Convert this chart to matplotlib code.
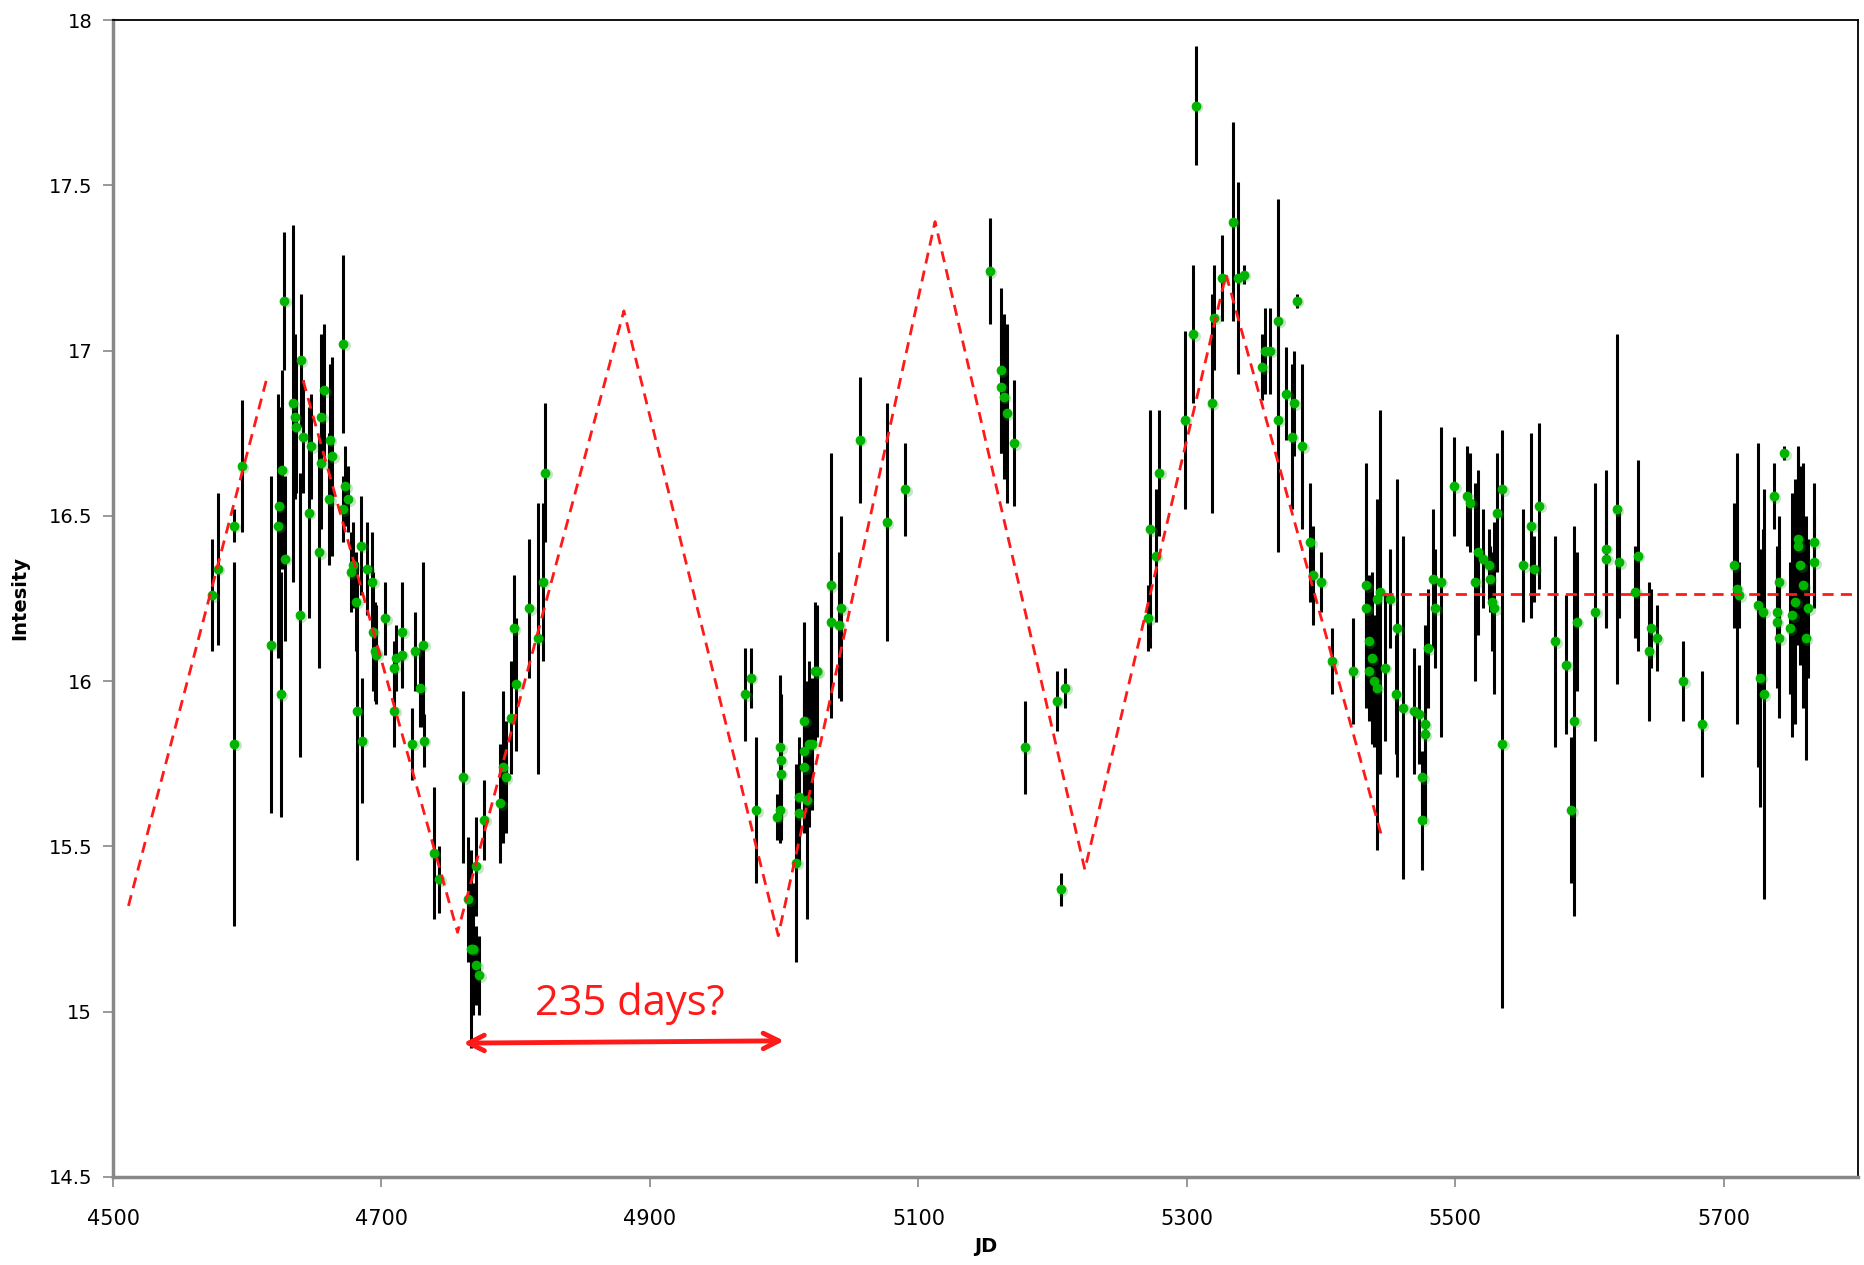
import matplotlib
matplotlib.use("Agg")
import matplotlib.pyplot as plt
import matplotlib.transforms as mtransforms

# ---- observations: JD, intensity, half error bar ----
jd = [4574.0, 4578.0, 4590.0, 4596.0, 4590.5, 4617.6, 4623.6, 4623.0, 4625.6, 4628.0,
      4625.0, 4627.6, 4633.8, 4635.5, 4636.0, 4639.7, 4641.7, 4639.0, 4645.7, 4647.7,
      4653.6, 4657.3, 4655.3, 4655.0, 4661.5, 4661.0, 4663.5, 4671.5, 4673.2, 4675.4,
      4671.0, 4685.1, 4679.0, 4677.2, 4681.2, 4689.3, 4693.0, 4681.5, 4685.5, 4693.5,
      4695.3, 4696.0, 4703.0, 4709.2, 4711.2, 4715.0, 4715.5, 4709.5, 4724.8, 4731.0,
      4728.5, 4723.1, 4731.5, 4739.0, 4743.0,
      4760.8, 4764.7, 4767.0, 4768.0, 4770.7, 4772.7, 4770.7, 4776.4, 4788.5, 4790.5,
      4792.5, 4796.2, 4800.4, 4798.5, 4810.1, 4816.3, 4820.3, 4822.0,
      4971.1, 4975.1, 4979.1, 4994.5, 4997.0, 4997.0, 4997.5, 4997.5, 5008.9, 5010.8,
      5010.8, 5016.8, 5014.8, 5014.8, 5014.8, 5018.8, 5020.8, 5023.0, 5024.7, 5034.7,
      5034.7, 5040.6, 5042.6, 5056.5, 5076.3, 5090.2,
      5153.0, 5161.4, 5161.4, 5163.7, 5165.7, 5171.4, 5179.3, 5203.1, 5206.0, 5209.3,
      5272.8, 5276.8, 5271.1, 5279.3,
      5306.6, 5298.6, 5304.6, 5318.5, 5320.5, 5326.4, 5334.1, 5338.3, 5342.3, 5382.0,
      5356.2, 5358.2, 5362.2, 5368.1, 5368.1, 5374.1, 5380.0, 5378.0, 5386.0, 5392.0,
      5393.9, 5399.9, 5408.0, 5423.7,
      5433.6, 5433.6, 5435.6, 5437.6, 5435.6, 5439.6, 5441.6, 5441.6, 5443.6, 5447.5,
      5451.5, 5456.7, 5455.5, 5461.4, 5469.4, 5473.3, 5477.3, 5477.3, 5475.3, 5475.3,
      5479.3, 5483.3, 5485.2, 5489.2, 5499.1, 5509.0, 5511.1, 5515.0, 5517.0, 5521.0,
      5525.0, 5525.5, 5527.0, 5529.0, 5531.0, 5534.9, 5534.9, 5550.7, 5556.7, 5558.7,
      5562.7, 5574.6, 5582.5, 5588.5, 5586.5, 5590.4, 5604.3,
      5612.2, 5612.5, 5620.2, 5622.2, 5636.0, 5634.1, 5646.0, 5644.0, 5650.0, 5669.8,
      5683.7, 5707.5, 5709.5, 5711.5, 5725.4, 5729.3, 5727.3, 5729.8, 5737.3, 5739.3,
      5739.5, 5741.2, 5741.5, 5745.2, 5749.2, 5751.2, 5753.2, 5755.1, 5755.5, 5757.1,
      5759.1, 5761.1, 5763.0, 5767.0, 5767.5]

intensity = [16.26, 16.34, 16.47, 16.65, 15.81, 16.11, 16.53, 16.47, 16.64, 16.37,
             15.96, 17.15, 16.84, 16.80, 16.77, 16.97, 16.74, 16.20, 16.51, 16.71,
             16.39, 16.88, 16.80, 16.66, 16.73, 16.55, 16.68, 17.02, 16.59, 16.55,
             16.52, 16.41, 16.35, 16.33, 16.24, 16.34, 16.30, 15.91, 15.82, 16.15,
             16.09, 16.08, 16.19, 16.04, 16.07, 16.08, 16.15, 15.91, 16.09, 16.11,
             15.98, 15.81, 15.82, 15.48, 15.40,
             15.71, 15.34, 15.19, 15.19, 15.14, 15.11, 15.44, 15.58, 15.63, 15.74,
             15.71, 15.89, 15.99, 16.16, 16.22, 16.13, 16.30, 16.63,
             15.96, 16.01, 15.61, 15.59, 15.61, 15.80, 15.76, 15.72, 15.45, 15.65,
             15.60, 15.64, 15.88, 15.79, 15.74, 15.81, 15.81, 16.03, 16.03, 16.29,
             16.18, 16.17, 16.22, 16.73, 16.48, 16.58,
             17.24, 16.94, 16.89, 16.86, 16.81, 16.72, 15.80, 15.94, 15.37, 15.98,
             16.46, 16.38, 16.19, 16.63,
             17.74, 16.79, 17.05, 16.84, 17.10, 17.22, 17.39, 17.22, 17.23, 17.15,
             16.95, 17.00, 17.00, 17.09, 16.79, 16.87, 16.84, 16.74, 16.71, 16.42,
             16.32, 16.30, 16.06, 16.03,
             16.29, 16.22, 16.12, 16.07, 16.03, 16.00, 15.98, 16.25, 16.27, 16.04,
             16.25, 16.16, 15.96, 15.92, 15.91, 15.90, 15.87, 15.84, 15.71, 15.58,
             16.10, 16.31, 16.22, 16.30, 16.59, 16.56, 16.54, 16.30, 16.39, 16.37,
             16.35, 16.31, 16.24, 16.22, 16.51, 16.58, 15.81, 16.35, 16.47, 16.34,
             16.53, 16.12, 16.05, 15.88, 15.61, 16.18, 16.21,
             16.40, 16.37, 16.52, 16.36, 16.38, 16.27, 16.16, 16.09, 16.13, 16.00,
             15.87, 16.35, 16.28, 16.26, 16.23, 16.21, 16.01, 15.96, 16.56, 16.21,
             16.18, 16.30, 16.13, 16.69, 16.16, 16.20, 16.24, 16.43, 16.41, 16.35,
             16.29, 16.13, 16.22, 16.42, 16.36]

err = [0.17, 0.23, 0.05, 0.20, 0.55, 0.51, 0.30, 0.40, 0.30, 0.25,
       0.37, 0.21, 0.54, 0.25, 0.20, 0.20, 0.17, 0.43, 0.32, 0.16,
       0.35, 0.20, 0.25, 0.20, 0.23, 0.20, 0.30, 0.27, 0.12, 0.10,
       0.10, 0.15, 0.13, 0.12, 0.15, 0.14, 0.15, 0.45, 0.19, 0.18,
       0.15, 0.15, 0.11, 0.08, 0.10, 0.10, 0.15, 0.11, 0.12, 0.25,
       0.12, 0.11, 0.08, 0.20, 0.10,
       0.26, 0.19, 0.30, 0.20, 0.12, 0.12, 0.15, 0.12, 0.18, 0.23,
       0.17, 0.17, 0.20, 0.16, 0.21, 0.41, 0.24, 0.21,
       0.14, 0.09, 0.22, 0.07, 0.10, 0.22, 0.20, 0.20, 0.30, 0.18,
       0.15, 0.36, 0.30, 0.20, 0.20, 0.25, 0.20, 0.21, 0.20, 0.40,
       0.20, 0.22, 0.28, 0.19, 0.36, 0.14,
       0.16, 0.25, 0.20, 0.25, 0.27, 0.19, 0.14, 0.09, 0.05, 0.06,
       0.36, 0.20, 0.10, 0.19,
       0.18, 0.27, 0.21, 0.33, 0.16, 0.13, 0.30, 0.29, 0.03, 0.02,
       0.10, 0.13, 0.13, 0.37, 0.40, 0.14, 0.16, 0.22, 0.25, 0.18,
       0.15, 0.09, 0.10, 0.16,
       0.37, 0.25, 0.20, 0.26, 0.15, 0.20, 0.49, 0.30, 0.55, 0.22,
       0.15, 0.45, 0.18, 0.52, 0.19, 0.15, 0.30, 0.20, 0.08, 0.15,
       0.18, 0.21, 0.18, 0.47, 0.15, 0.15, 0.15, 0.30, 0.25, 0.15,
       0.11, 0.10, 0.15, 0.26, 0.18, 0.18, 0.80, 0.17, 0.28, 0.10,
       0.25, 0.32, 0.21, 0.59, 0.22, 0.21, 0.39,
       0.24, 0.20, 0.53, 0.17, 0.29, 0.14, 0.12, 0.21, 0.10, 0.12,
       0.16, 0.19, 0.41, 0.10, 0.49, 0.25, 0.39, 0.62, 0.10, 0.20,
       0.20, 0.20, 0.24, 0.02, 0.20, 0.37, 0.37, 0.26, 0.30, 0.30,
       0.37, 0.37, 0.21, 0.18, 0.14]

# ---- hand-drawn trend (red dashed) ----
trend1_jd = [4511.5, 4614.2]
trend1_val = [15.32, 16.91]
trend2_jd = [4641.6, 4756.7, 4880.6, 4995.6, 5112.4, 5224.0, 5329.2, 5445.2]
trend2_val = [16.91, 15.24, 17.12, 15.23, 17.39, 15.43, 17.23, 15.53]
flat_jd = [5445.2, 5800.0]
flat_val = [16.263, 16.263]

arrow_jd = [4761.0, 5000.0]
arrow_val = [14.905, 14.912]
note_text = "235 days?"
note_jd, note_val = 4885.0, 15.025

xticks = [4500, 4700, 4900, 5100, 5300, 5500, 5700]
yticks = [14.5, 15, 15.5, 16, 16.5, 17, 17.5, 18]

fig = plt.figure(figsize=(18.64, 12.65), dpi=100)
ax = fig.add_axes([113/1864, 1-1177/1265, (1858-113)/1864, (1177-20)/1265])

ax.errorbar(jd, intensity, yerr=err, fmt='none', ecolor='black', elinewidth=2.2,
            capsize=0, zorder=2)
shadow = ax.transData + mtransforms.ScaledTranslation(1.5/100, -1.5/100, fig.dpi_scale_trans)
ax.plot(jd, intensity, 'o', color='#1aa01a', ms=8, mec='none', alpha=0.25,
        zorder=2.5, transform=shadow)
ax.plot(jd, intensity, 'o', color='#00b400', ms=7, mec='none', zorder=3)

dash = (4, 2.6)
ax.plot(trend1_jd, trend1_val, color='#ff1a1a', lw=2.0, dashes=dash, zorder=4)
ax.plot(trend2_jd, trend2_val, color='#ff1a1a', lw=2.0, dashes=dash, zorder=4)
ax.plot(flat_jd, flat_val, color='#ff1a1a', lw=2.0, dashes=dash, zorder=4)

ax.annotate('', xy=(arrow_jd[0], arrow_val[0]), xytext=(arrow_jd[1], arrow_val[1]),
            arrowprops=dict(arrowstyle='<->', color='#ff1a1a', lw=3.5,
                            mutation_scale=28, shrinkA=0, shrinkB=0), zorder=5)
ax.text(note_jd, note_val, note_text, color='#ff1a1a', fontsize=30,
        family=['Open Sans', 'DejaVu Sans'], ha='center', va='center', zorder=5)

ax.set_xlim(4500, 5800)
ax.set_ylim(14.5, 18)
ax.set_xticks(xticks)
ax.set_yticks(yticks)
ax.set_xticklabels([str(v) for v in xticks], family=['Liberation Sans Narrow', 'DejaVu Sans'],
                   fontsize=15)
ax.set_yticklabels(['%g' % v for v in yticks], family='DejaVu Sans', fontsize=14)

for s in ['left', 'bottom']:
    ax.spines[s].set_color('#888888')
    ax.spines[s].set_linewidth(2.5)
for s in ['top', 'right']:
    ax.spines[s].set_color('black')
    ax.spines[s].set_linewidth(1.3)

ax.tick_params(axis='y', direction='out', length=7, width=1.2, color='#888888', pad=8)
ax.tick_params(axis='x', direction='out', length=7, width=1.2, color='#888888', pad=16)

ax.set_ylabel('Intesity', fontsize=14, fontweight='bold',
              family=['Liberation Sans Narrow', 'DejaVu Sans'], labelpad=14)
ax.set_xlabel('JD', fontsize=14, fontweight='bold',
              family=['Liberation Sans Narrow', 'DejaVu Sans'], labelpad=6)

fig.savefig('out.png', dpi=100)
